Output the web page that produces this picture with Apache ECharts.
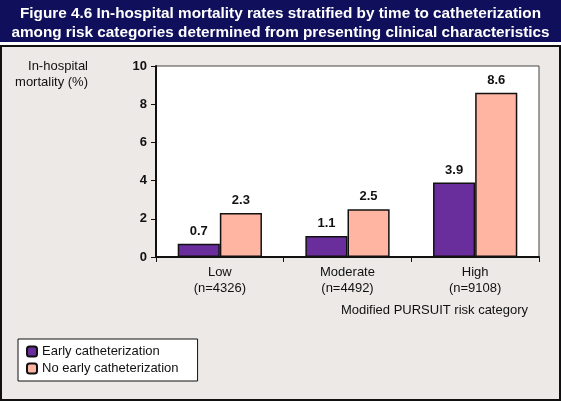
<!DOCTYPE html>
<html><head><meta charset="utf-8">
<script src="https://cdn.jsdelivr.net/npm/echarts@6/dist/echarts.min.js"></script>
<style>html,body{margin:0;padding:0;background:#fff}#c{width:561px;height:401px}</style>
</head><body><div id="c"></div>
<script>
const categories = ['Low\n(n=4326)', 'Moderate\n(n=4492)', 'High\n(n=9108)'];
const early = [0.7, 1.1, 3.9];
const noEarly = [2.3, 2.5, 8.6];
const seriesNames = ['Early catheterization', 'No early catheterization'];
const titleLines = 'Figure 4.6 In-hospital mortality rates stratified by time to catheterization\namong risk categories determined from presenting clinical characteristics';
const FONT = 'Liberation Sans, Arial, sans-serif';

const chart = echarts.init(document.getElementById('c'), null, {renderer: 'canvas'});
chart.setOption({
  animation: false,
  backgroundColor: '#ffffff',
  graphic: [
    {type: 'rect', shape: {x: 0, y: 0, width: 561, height: 42}, style: {fill: '#0f0f5c'}, z: -10},
    {type: 'rect', shape: {x: 1, y: 46, width: 559, height: 354}, style: {fill: '#ece9e7', stroke: '#111', lineWidth: 2}, z: -10},
    {type: 'text', x: 280.5, y: 4, style: {text: titleLines, fill: '#fff', font: 'bold 15.3px ' + FONT, lineHeight: 19, align: 'center', verticalAlign: 'top'}, z: 10},
    {type: 'text', x: 88, y: 58, style: {text: 'In-hospital\nmortality (%)', fill: '#111', font: '13px ' + FONT, lineHeight: 16, align: 'right', verticalAlign: 'top'}},
    {type: 'text', x: 528, y: 304, style: {text: 'Modified PURSUIT risk category', fill: '#111', font: '13px ' + FONT, align: 'right', verticalAlign: 'top'}}
  ],
  legend: {
    left: 18, top: 339, orient: 'vertical',
    backgroundColor: '#fff', borderColor: '#111', borderWidth: 1,
    padding: [6, 19, 6, 8], itemWidth: 10, itemHeight: 10, itemGap: 4,
    textStyle: {fontFamily: FONT, fontSize: 13, color: '#111'},
    data: seriesNames
  },
  grid: {left: 156, right: 22, top: 66, bottom: 144, show: true, backgroundColor: '#fff', borderColor: '#444', borderWidth: 1},
  xAxis: {
    type: 'category', data: categories,
    axisLine: {lineStyle: {color: '#111', width: 2}},
    axisTick: {show: true, length: 5, lineStyle: {color: '#111'}},
    axisLabel: {color: '#111', fontFamily: FONT, fontSize: 13, lineHeight: 16, margin: 7}
  },
  yAxis: {
    type: 'value', min: 0, max: 10, interval: 2,
    axisLine: {show: true, lineStyle: {color: '#111', width: 2}},
    axisTick: {show: true, length: 5, lineStyle: {color: '#111'}},
    splitLine: {show: false},
    axisLabel: {color: '#111', fontFamily: FONT, fontSize: 13, fontWeight: 'bold', margin: 9}
  },
  series: [
    {name: seriesNames[0], type: 'bar', data: early, barGap: '0%', barCategoryGap: '34%',
     itemStyle: {color: '#6a2e9c', borderColor: '#111', borderWidth: 1.5},
     label: {show: true, position: 'top', color: '#111', fontFamily: FONT, fontSize: 13, fontWeight: 'bold', distance: 6}},
    {name: seriesNames[1], type: 'bar', data: noEarly,
     itemStyle: {color: '#ffb5a1', borderColor: '#111', borderWidth: 1.5},
     label: {show: true, position: 'top', color: '#111', fontFamily: FONT, fontSize: 13, fontWeight: 'bold', distance: 6}}
  ]
});
</script></body></html>
